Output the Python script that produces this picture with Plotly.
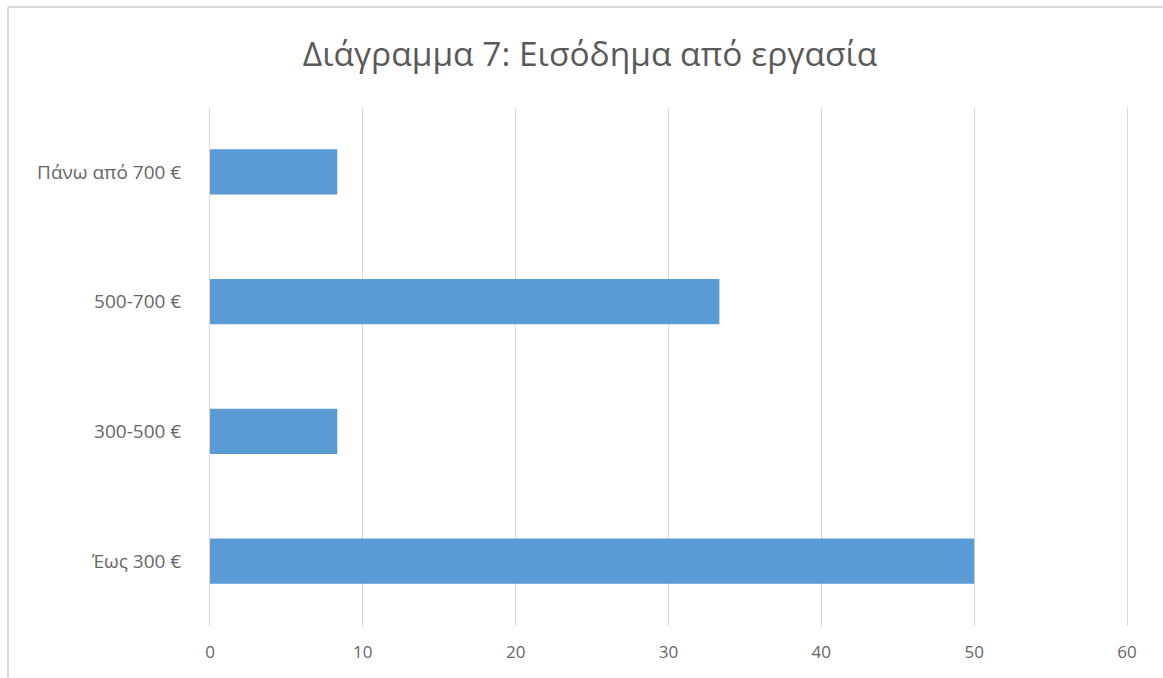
import plotly.graph_objects as go

categories = ["Έως 300 €", "300-500 €", "500-700 €", "Πάνω από 700 €"]
values = [50.0, 8.33, 33.33, 8.33]
x_ticks = [0, 10, 20, 30, 40, 50, 60]

W, H = 1163, 678
L, R, T, B = 210, 36, 107, 52
pw, ph = W - L - R, H - T - B


def px_x(p):
    return (p - L) / pw


def px_y(p):
    return 1 - (p - T) / ph


fig = go.Figure()
fig.add_trace(
    go.Bar(
        x=values,
        y=categories,
        orientation="h",
        width=0.35,
        marker={"color": "#5B9BD5", "line": {"width": 0}},
        hoverinfo="x+y",
    )
)

border = "#d9d9d9"
fig.add_shape(type="line", xref="paper", yref="paper",
              x0=px_x(8), y0=px_y(7), x1=px_x(W + 5), y1=px_y(7),
              line={"color": border, "width": 2})
fig.add_shape(type="line", xref="paper", yref="paper",
              x0=px_x(8), y0=px_y(7), x1=px_x(8), y1=px_y(H + 5),
              line={"color": border, "width": 2})

fig.update_layout(
    width=W,
    height=H,
    margin={"l": L, "r": R, "t": T, "b": B},
    paper_bgcolor="white",
    plot_bgcolor="white",
    showlegend=False,
    font={"family": "Open Sans, sans-serif", "color": "#595959"},
    title={
        "text": "Διάγραμμα 7: Εισόδημα από εργασία",
        "x": 590 / W,
        "xanchor": "center",
        "y": 1 - 54 / H,
        "yanchor": "middle",
        "font": {"size": 33.5, "color": "#595959"},
    },
    bargap=0.65,
)
fig.update_xaxes(
    range=[0, 60],
    tickvals=x_ticks,
    showgrid=True,
    gridcolor="#d9d9d9",
    gridwidth=1,
    zeroline=False,
    showline=False,
    ticks="",
    ticklabelstandoff=14,
    tickfont={"size": 17, "color": "#666666"},
)
fig.update_yaxes(
    categoryorder="array",
    categoryarray=categories,
    showgrid=False,
    zeroline=False,
    showline=True,
    mirror=True,
    linecolor="#d9d9d9",
    linewidth=1,
    ticks="",
    ticklabelstandoff=24,
    tickfont={"size": 19, "color": "#666666"},
)

fig.write_html(
    "out.html",
    config={"displayModeBar": False},
    post_script="document.body.style.margin='0';",
)
